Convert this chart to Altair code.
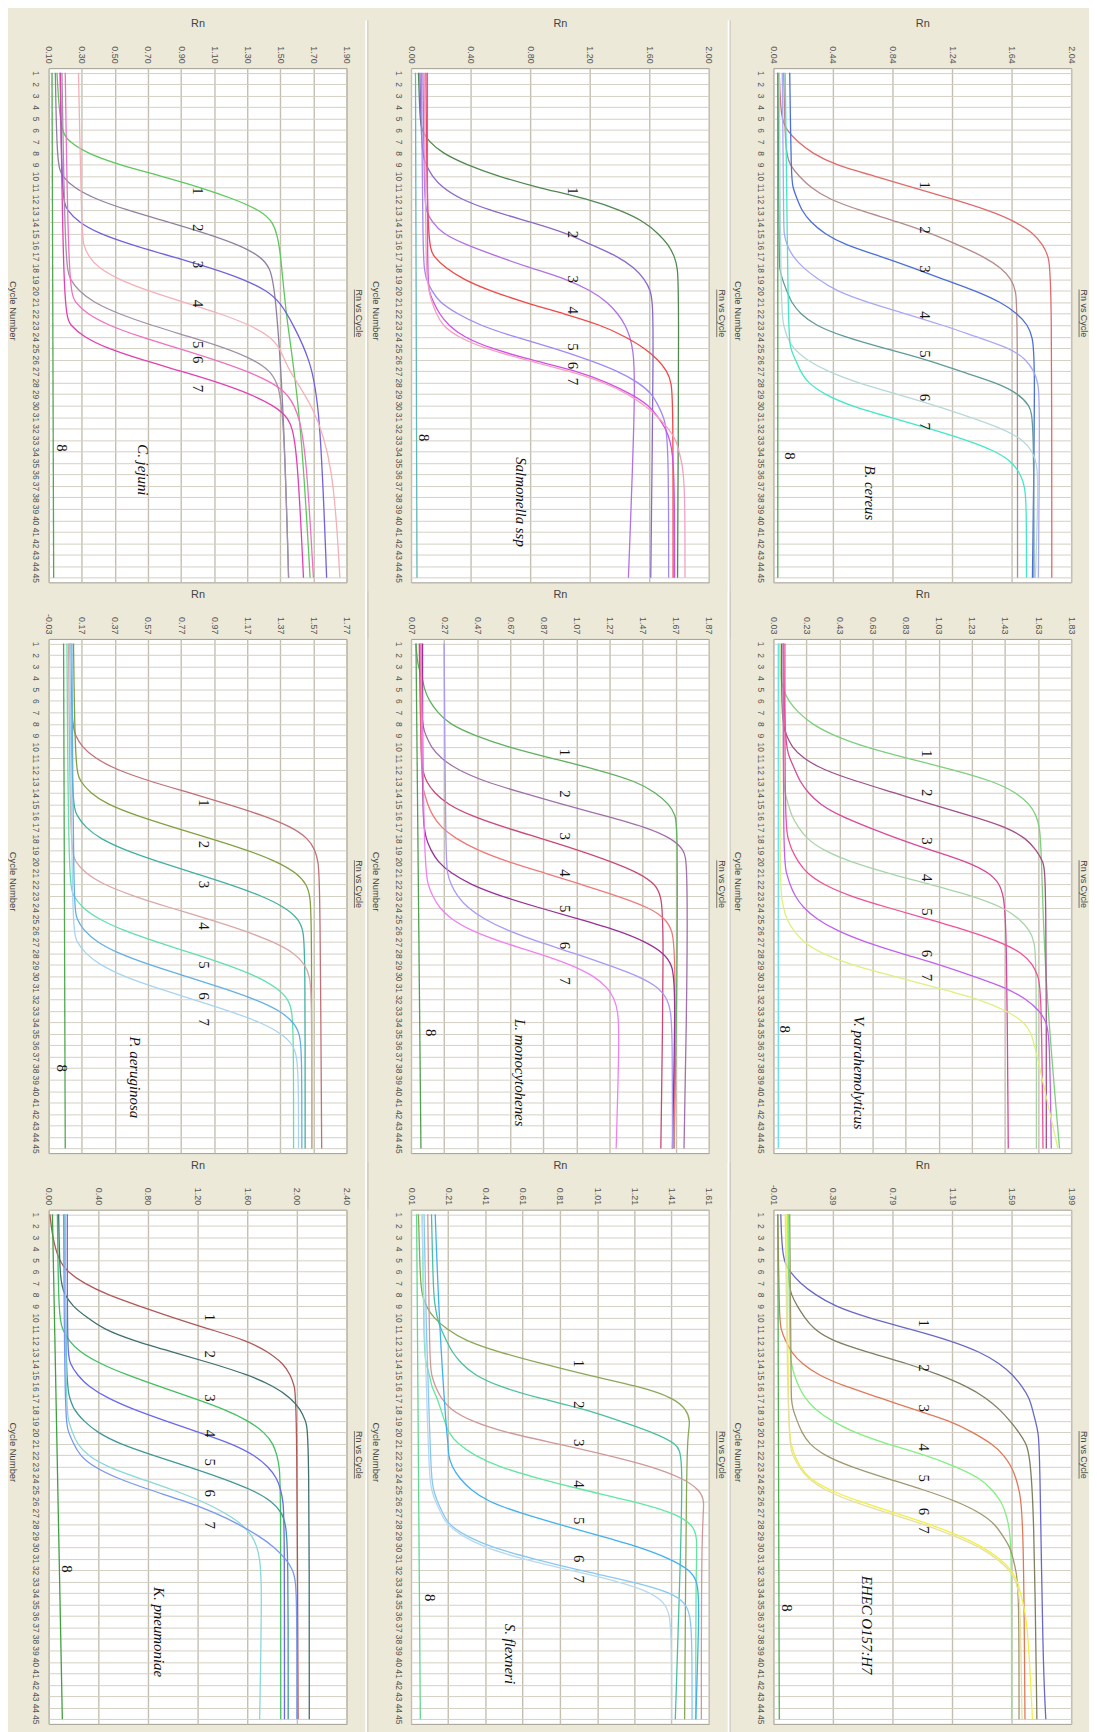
import altair as alt
import pandas as pd

W, H = 300, 518
CYC = list(range(1, 46))
YDOM = [0.6, 45.4]

# ---------------- C. jejuni ----------------
cj_ticks = [0.10, 0.30, 0.50, 0.70, 0.90, 1.10, 1.30, 1.50, 1.70, 1.90]
cj_colors = ["#5CC85C", "#9080A0", "#7060E0", "#F4B0B8", "#A090A8", "#F070C0", "#E040B0", "#50A850"]
cj_curves = [
    [(1,0.15),(6,0.17),(7,0.22),(8,0.33),(9,0.52),(10,0.78),(11,1.02),(12,1.22),(13,1.38),(14,1.46),(16,1.50),(22,1.53),(30,1.62),(45,1.68)],
    [(1,0.14),(9,0.15),(10,0.18),(11,0.25),(12,0.38),(13,0.58),(14,0.82),(15,1.05),(16,1.25),(17,1.38),(18,1.44),(20,1.47),(30,1.52),(45,1.55)],
    [(1,0.17),(12,0.18),(13,0.21),(14,0.28),(15,0.40),(16,0.60),(17,0.84),(18,1.08),(19,1.28),(20,1.42),(21,1.50),(23,1.58),(26,1.68),(30,1.74),(45,1.78)],
    [(1,0.28),(15,0.30),(16,0.31),(17,0.34),(18,0.40),(19,0.52),(20,0.70),(21,0.92),(22,1.14),(23,1.32),(24,1.44),(25,1.50),(27,1.55),(30,1.70),(35,1.82),(45,1.86)],
    [(1,0.18),(18,0.20),(19,0.23),(20,0.28),(21,0.37),(22,0.52),(23,0.72),(24,0.95),(25,1.17),(26,1.34),(27,1.44),(28,1.48),(30,1.52),(45,1.55)],
    [(1,0.20),(20,0.22),(21,0.26),(22,0.33),(23,0.46),(24,0.65),(25,0.88),(26,1.10),(27,1.30),(28,1.45),(29,1.55),(31,1.62),(35,1.66),(45,1.70)],
    [(1,0.17),(22,0.19),(23,0.23),(24,0.31),(25,0.45),(26,0.66),(27,0.90),(28,1.13),(29,1.32),(30,1.46),(31,1.55),(33,1.60),(45,1.64)],
    [(1,0.12),(45,0.13)],
]
cj_num_rn = 1.00
cj_num_cyc = [11.3, 14.5, 17.7, 21.1, 24.7, 26.0, 28.5]
cj_eight = (0.18, 33.7)
cj_name = ("C. jejuni", 0.67, 35.6)

# ---------------- Salmonella ssp ----------------
sa_ticks = [0.00, 0.40, 0.80, 1.20, 1.60, 2.00]
sa_colors = ["#508850", "#8A68C8", "#B070E8", "#F04848", "#A088F8", "#D050E8", "#F4A0C0", "#60B8B8"]
sa_curves = [
    [(1,0.05),(5,0.06),(6,0.07),(7,0.12),(8,0.21),(9,0.37),(10,0.58),(11,0.85),(12,1.19),(13,1.41),(14,1.57),(15,1.66),(16,1.73),(17,1.77),(18,1.79),(20,1.80),(45,1.79)],
    [(1,0.06),(8,0.07),(9,0.10),(10,0.14),(11,0.21),(12,0.33),(13,0.53),(14,0.80),(15,1.05),(16,1.21),(17,1.39),(18,1.50),(19,1.57),(20,1.61),(21,1.62),(23,1.63),(45,1.61)],
    [(1,0.08),(12,0.09),(13,0.10),(14,0.14),(15,0.21),(16,0.37),(17,0.58),(18,0.80),(19,1.05),(20,1.21),(21,1.32),(22,1.39),(23,1.44),(24,1.47),(25,1.49),(28,1.51),(45,1.46)],
    [(1,0.10),(16,0.11),(17,0.15),(18,0.23),(19,0.35),(20,0.53),(21,0.76),(22,1.03),(23,1.28),(24,1.44),(25,1.57),(26,1.66),(27,1.72),(28,1.75),(30,1.76),(45,1.76)],
    [(1,0.07),(17,0.08),(18,0.09),(19,0.10),(20,0.14),(21,0.19),(22,0.31),(23,0.46),(24,0.69),(25,0.96),(26,1.19),(27,1.39),(28,1.53),(29,1.62),(30,1.66),(31,1.70),(33,1.73),(45,1.73)],
    [(1,0.11),(19,0.11),(20,0.12),(21,0.15),(22,0.19),(23,0.25),(24,0.35),(25,0.53),(26,0.80),(27,1.12),(28,1.32),(29,1.48),(30,1.60),(31,1.66),(32,1.71),(33,1.74),(35,1.77),(45,1.77)],
    [(1,0.09),(18,0.10),(19,0.11),(20,0.12),(21,0.14),(22,0.17),(23,0.21),(24,0.31),(25,0.49),(26,0.76),(27,1.07),(28,1.30),(29,1.46),(30,1.57),(31,1.66),(32,1.73),(33,1.78),(34,1.80),(35,1.82),(37,1.84),(45,1.84)],
    [(1,0.03),(45,0.04)],
]
sa_num_rn = 1.09
sa_num_cyc = [11.3, 15.1, 19.0, 21.7, 24.9, 26.5, 27.9]
sa_eight = (0.09, 32.8)
sa_name = ("Salmonella ssp", 0.74, 38.4)

# ---------------- B. cereus ----------------
bc_ticks = [0.04, 0.44, 0.84, 1.24, 1.64, 2.04]
bc_colors = ["#E06A6A", "#B48A8A", "#4A6FD8", "#A8A8F8", "#5F9A98", "#B6D8D8", "#40E8C8", "#50A850"]
bc_curves = [
    [(1,0.08),(5,0.09),(6,0.13),(7,0.20),(8,0.30),(9,0.45),(10,0.72),(11,0.98),(12,1.24),(13,1.49),(14,1.67),(15,1.79),(16,1.85),(17,1.89),(19,1.91),(45,1.91)],
    [(1,0.11),(8,0.12),(9,0.15),(10,0.21),(11,0.29),(12,0.41),(13,0.62),(14,0.88),(15,1.10),(16,1.28),(17,1.45),(18,1.57),(19,1.64),(20,1.67),(22,1.68),(45,1.68)],
    [(1,0.15),(10,0.16),(11,0.17),(12,0.20),(13,0.23),(14,0.29),(15,0.38),(16,0.52),(17,0.76),(18,0.98),(19,1.18),(20,1.40),(21,1.57),(22,1.68),(23,1.75),(24,1.78),(26,1.80),(45,1.78)],
    [(1,0.10),(14,0.11),(15,0.11),(16,0.13),(17,0.17),(18,0.24),(19,0.34),(20,0.46),(21,0.67),(22,0.93),(23,1.18),(24,1.40),(25,1.63),(26,1.74),(27,1.79),(28,1.82),(30,1.83),(45,1.82)],
    [(1,0.07),(17,0.08),(18,0.08),(19,0.10),(20,0.13),(21,0.16),(22,0.22),(23,0.32),(24,0.51),(25,0.78),(26,1.07),(27,1.29),(28,1.54),(29,1.69),(30,1.76),(31,1.79),(45,1.79)],
    [(1,0.08),(22,0.09),(23,0.11),(24,0.13),(25,0.17),(26,0.26),(27,0.40),(28,0.60),(29,0.87),(30,1.13),(31,1.36),(32,1.58),(33,1.72),(34,1.78),(35,1.81),(37,1.82),(45,1.80)],
    [(1,0.12),(23,0.14),(25,0.15),(26,0.19),(27,0.22),(28,0.27),(29,0.38),(30,0.55),(31,0.82),(32,1.09),(33,1.34),(34,1.54),(35,1.65),(36,1.70),(37,1.73),(39,1.74),(45,1.74)],
    [(1,0.07),(45,0.07)],
]
bc_num_rn = 1.06
bc_num_cyc = [10.8, 14.7, 18.1, 22.1, 25.5, 29.3, 31.8]
bc_eight = (0.15, 34.4)
bc_name = ("B. cereus", 0.69, 37.6)

# ---------------- P. aeruginosa ----------------
pa_ticks = [-0.03, 0.17, 0.37, 0.57, 0.77, 0.97, 1.17, 1.37, 1.57, 1.77]
pa_colors = ["#C07078", "#80A040", "#40B0A0", "#D8A8A8", "#60E0B0", "#60B0E8", "#A8D4F0", "#50A850"]
pa_curves = [
    [(1,0.10),(8,0.11),(9,0.13),(10,0.17),(11,0.25),(12,0.38),(13,0.58),(14,0.82),(15,1.05),(16,1.27),(17,1.44),(18,1.54),(19,1.58),(20,1.60),(22,1.61),(45,1.62)],
    [(1,0.12),(12,0.13),(13,0.16),(14,0.22),(15,0.32),(16,0.50),(17,0.72),(18,0.95),(19,1.17),(20,1.35),(21,1.47),(22,1.53),(23,1.55),(25,1.56),(45,1.56)],
    [(1,0.10),(15,0.11),(16,0.14),(17,0.19),(18,0.28),(19,0.43),(20,0.63),(21,0.85),(22,1.07),(23,1.26),(24,1.40),(25,1.48),(26,1.51),(28,1.52),(45,1.52)],
    [(1,0.09),(19,0.10),(20,0.13),(21,0.19),(22,0.30),(23,0.48),(24,0.70),(25,0.93),(26,1.15),(27,1.33),(28,1.46),(29,1.52),(30,1.55),(32,1.56),(45,1.56)],
    [(1,0.08),(22,0.09),(23,0.12),(24,0.17),(25,0.27),(26,0.42),(27,0.62),(28,0.84),(29,1.05),(30,1.23),(31,1.35),(32,1.42),(33,1.44),(35,1.45),(45,1.45)],
    [(1,0.11),(24,0.12),(25,0.14),(26,0.18),(27,0.26),(28,0.39),(29,0.58),(30,0.80),(31,1.02),(32,1.22),(33,1.37),(34,1.45),(35,1.49),(37,1.50),(45,1.50)],
    [(1,0.10),(26,0.11),(27,0.14),(28,0.19),(29,0.28),(30,0.42),(31,0.62),(32,0.84),(33,1.06),(34,1.25),(35,1.38),(36,1.45),(37,1.47),(39,1.48),(45,1.48)],
    [(1,0.06),(45,0.07)],
]
pa_num_rn = 0.91
pa_num_cyc = [14.9, 18.5, 22.0, 25.6, 29.0, 31.7, 34.0]
pa_eight = (0.05, 38.0)
pa_name = ("P. aeruginosa", 0.49, 38.8)

# ---------------- L. monocytohenes ----------------
lm_ticks = [0.07, 0.27, 0.47, 0.67, 0.87, 1.07, 1.27, 1.47, 1.67, 1.87]
lm_colors = ["#60B060", "#A070A8", "#C84878", "#F07878", "#983098", "#A898F8", "#F080F0", "#50A050"]
lm_curves = [
    [(1,0.10),(3,0.11),(4,0.14),(5,0.15),(6,0.18),(7,0.23),(8,0.30),(9,0.45),(10,0.65),(11,0.92),(12,1.20),(13,1.43),(14,1.55),(15,1.63),(16,1.67),(17,1.68),(30,1.68),(45,1.66)],
    [(1,0.13),(8,0.13),(9,0.16),(10,0.19),(11,0.25),(12,0.35),(13,0.51),(14,0.74),(15,0.98),(16,1.24),(17,1.49),(18,1.65),(19,1.72),(20,1.74),(30,1.74),(45,1.72)],
    [(1,0.12),(11,0.13),(12,0.14),(13,0.16),(14,0.21),(15,0.29),(16,0.43),(17,0.63),(18,0.86),(19,1.08),(20,1.28),(21,1.45),(22,1.55),(23,1.58),(25,1.60),(45,1.58)],
    [(1,0.13),(13,0.13),(14,0.15),(15,0.17),(16,0.20),(17,0.25),(18,0.34),(19,0.47),(20,0.65),(21,0.88),(22,1.10),(23,1.32),(24,1.51),(25,1.61),(26,1.65),(28,1.67),(45,1.66)],
    [(1,0.14),(16,0.14),(17,0.15),(18,0.16),(19,0.19),(20,0.23),(21,0.31),(22,0.43),(23,0.61),(24,0.84),(25,1.08),(26,1.32),(27,1.49),(28,1.60),(29,1.65),(31,1.67),(45,1.65)],
    [(1,0.27),(20,0.28),(21,0.29),(22,0.31),(23,0.35),(24,0.41),(25,0.51),(26,0.65),(27,0.84),(28,1.06),(29,1.26),(30,1.45),(31,1.57),(32,1.62),(33,1.64),(35,1.65),(45,1.65)],
    [(1,0.13),(20,0.15),(22,0.17),(23,0.20),(24,0.24),(25,0.31),(26,0.43),(27,0.61),(28,0.84),(29,1.04),(30,1.18),(31,1.26),(32,1.30),(33,1.32),(35,1.33),(45,1.31)],
    [(1,0.10),(45,0.13)],
]
lm_num_rn = 1.00
lm_num_cyc = [10.5, 14.1, 17.8, 21.0, 24.1, 27.3, 30.4]
lm_eight = (0.19, 34.9)
lm_name = ("L. monocytohenes", 0.73, 38.4)

# ---------------- V. parahemolyticus ----------------
vp_ticks = [0.03, 0.23, 0.43, 0.63, 0.83, 1.03, 1.23, 1.43, 1.63, 1.83]
vp_colors = ["#7CCF7C", "#A0508A", "#D84898", "#A8D4A8", "#F0509A", "#C060F0", "#DDF080", "#60E0F0"]
vp_curves = [
    [(1,0.07),(4,0.07),(5,0.09),(6,0.12),(7,0.18),(8,0.26),(9,0.39),(10,0.58),(11,0.84),(12,1.12),(13,1.36),(14,1.50),(15,1.58),(16,1.62),(17,1.64),(19,1.65),(30,1.67),(45,1.76)],
    [(1,0.08),(8,0.08),(9,0.11),(10,0.14),(11,0.21),(12,0.33),(13,0.53),(14,0.76),(15,0.98),(16,1.22),(17,1.44),(18,1.56),(19,1.62),(20,1.66),(21,1.68),(45,1.68)],
    [(1,0.09),(10,0.10),(11,0.13),(12,0.16),(13,0.19),(14,0.24),(15,0.31),(16,0.43),(17,0.60),(18,0.78),(19,0.98),(20,1.20),(21,1.34),(22,1.40),(23,1.42),(25,1.44),(45,1.45)],
    [(1,0.09),(13,0.09),(14,0.10),(15,0.12),(16,0.14),(17,0.18),(18,0.23),(19,0.33),(20,0.49),(21,0.72),(22,0.98),(23,1.24),(24,1.42),(25,1.52),(26,1.58),(27,1.61),(29,1.62),(45,1.62)],
    [(1,0.10),(17,0.10),(18,0.12),(19,0.14),(20,0.18),(21,0.23),(22,0.33),(23,0.49),(24,0.72),(25,0.96),(26,1.20),(27,1.40),(28,1.54),(29,1.60),(30,1.63),(31,1.65),(45,1.66)],
    [(1,0.09),(20,0.09),(21,0.11),(22,0.13),(23,0.16),(24,0.21),(25,0.29),(26,0.41),(27,0.58),(28,0.80),(29,1.04),(30,1.24),(31,1.44),(32,1.56),(33,1.64),(34,1.68),(35,1.70),(45,1.71)],
    [(1,0.07),(22,0.07),(23,0.08),(24,0.09),(25,0.11),(26,0.15),(27,0.21),(28,0.32),(29,0.50),(30,0.76),(31,1.02),(32,1.28),(33,1.44),(34,1.55),(35,1.59),(36,1.61),(45,1.75)],
    [(1,0.06),(45,0.06)],
]
vp_num_rn = 0.96
vp_num_cyc = [10.6, 14.0, 18.2, 21.4, 24.4, 28.0, 30.1]
vp_eight = (0.10, 34.6)
vp_name = ("V. parahemolyticus", 0.55, 38.4)

# ---------------- K. pneumoniae ----------------
kp_ticks = [0.00, 0.40, 0.80, 1.20, 1.60, 2.00, 2.40]
kp_colors = ["#B05858", "#407070", "#40C060", "#6868F0", "#409898", "#88D8D8", "#7898F0", "#40A040"]
kp_curves = [
    [(1,0.01),(3,0.03),(5,0.08),(6,0.15),(7,0.28),(8,0.47),(9,0.73),(10,1.00),(11,1.29),(12,1.60),(13,1.77),(14,1.89),(15,1.95),(16,1.98),(17,2.00),(45,2.01)],
    [(1,0.08),(7,0.09),(8,0.13),(9,0.19),(10,0.31),(11,0.44),(12,0.68),(13,1.00),(14,1.32),(15,1.61),(16,1.82),(17,1.95),(18,2.03),(19,2.07),(20,2.10),(45,2.10)],
    [(1,0.07),(10,0.08),(11,0.11),(12,0.16),(13,0.25),(14,0.41),(15,0.63),(16,0.89),(17,1.16),(18,1.42),(19,1.61),(20,1.74),(21,1.81),(22,1.84),(23,1.86),(25,1.87),(45,1.87)],
    [(1,0.15),(13,0.15),(14,0.17),(15,0.23),(16,0.32),(17,0.47),(18,0.68),(19,0.94),(20,1.21),(21,1.48),(22,1.66),(23,1.77),(24,1.84),(25,1.87),(26,1.89),(28,1.90),(45,1.90)],
    [(1,0.13),(16,0.14),(17,0.17),(18,0.20),(19,0.28),(20,0.39),(21,0.57),(22,0.84),(23,1.13),(24,1.40),(25,1.64),(26,1.80),(27,1.88),(28,1.91),(30,1.93),(45,1.93)],
    [(1,0.13),(18,0.14),(19,0.16),(20,0.19),(21,0.23),(22,0.31),(23,0.47),(24,0.73),(25,1.00),(26,1.24),(27,1.42),(28,1.56),(29,1.64),(30,1.68),(31,1.70),(33,1.72),(45,1.70)],
    [(1,0.12),(19,0.13),(20,0.16),(21,0.20),(22,0.25),(23,0.36),(24,0.55),(25,0.81),(26,1.10),(27,1.34),(28,1.53),(29,1.69),(30,1.82),(31,1.91),(32,1.97),(33,1.99),(35,2.00),(45,2.00)],
    [(1,0.03),(45,0.11)],
]
kp_num_rn = 1.30
kp_num_cyc = [10.0, 13.2, 17.0, 20.1, 22.6, 25.3, 28.1]
kp_eight = (0.15, 31.9)
kp_name = ("K. pneumoniae", 0.89, 37.4)

# ---------------- S. flexneri ----------------
sf_ticks = [0.01, 0.21, 0.41, 0.61, 0.81, 1.01, 1.21, 1.41, 1.61]
sf_colors = ["#88A858", "#48C0A0", "#D09898", "#60E8A0", "#40B0F0", "#88C8F0", "#B8D8F0", "#60D890"]
sf_curves = [
    [(1,0.05),(7,0.06),(8,0.07),(9,0.09),(10,0.13),(11,0.20),(12,0.30),(13,0.48),(14,0.71),(15,0.95),(16,1.24),(17,1.42),(18,1.49),(19,1.51),(20,1.50),(22,1.49),(45,1.48)],
    [(1,0.12),(8,0.13),(9,0.14),(10,0.15),(11,0.17),(12,0.20),(13,0.23),(14,0.28),(15,0.35),(16,0.48),(17,0.69),(18,0.95),(19,1.13),(20,1.31),(21,1.44),(22,1.47),(30,1.46),(45,1.43)],
    [(1,0.10),(14,0.11),(15,0.12),(16,0.14),(17,0.17),(18,0.22),(19,0.33),(20,0.51),(21,0.80),(22,1.07),(23,1.31),(24,1.47),(25,1.56),(26,1.59),(28,1.57),(45,1.57)],
    [(1,0.07),(13,0.08),(14,0.09),(15,0.11),(16,0.12),(17,0.15),(18,0.17),(19,0.19),(20,0.21),(21,0.26),(22,0.35),(23,0.48),(24,0.69),(25,0.93),(26,1.20),(27,1.42),(28,1.52),(29,1.55),(32,1.54),(45,1.54)],
    [(1,0.14),(10,0.16),(20,0.20),(21,0.21),(22,0.21),(23,0.23),(24,0.27),(25,0.33),(26,0.42),(27,0.59),(28,0.80),(29,1.02),(30,1.24),(31,1.40),(32,1.51),(33,1.55),(35,1.56),(45,1.54)],
    [(1,0.08),(10,0.09),(20,0.11),(24,0.12),(25,0.13),(26,0.15),(27,0.18),(28,0.21),(29,0.30),(30,0.44),(31,0.66),(32,0.91),(33,1.20),(34,1.42),(35,1.49),(36,1.51),(38,1.52),(45,1.52)],
    [(1,0.07),(10,0.08),(20,0.10),(24,0.11),(25,0.12),(26,0.14),(27,0.17),(28,0.20),(29,0.28),(30,0.40),(31,0.60),(32,0.86),(33,1.13),(34,1.31),(35,1.38),(36,1.40),(38,1.41),(45,1.41)],
    [(1,0.04),(45,0.06)],
]
sf_num_rn = 0.91
sf_num_cyc = [14.0, 17.6, 20.9, 24.5, 27.7, 31.0, 32.8]
sf_eight = (0.11, 34.4)
sf_name = ("S. flexneri", 0.54, 39.3)

# ---------------- EHEC O157:H7 ----------------
eh_ticks = [-0.01, 0.39, 0.79, 1.19, 1.59, 1.99]
eh_colors = ["#6868C8", "#7E7E62", "#E07858", "#80F080", "#A09870", "#F0F040", "#E6E0A0", "#50B050"]
eh_curves = [
    [(1,0.04),(5,0.05),(6,0.10),(7,0.17),(8,0.27),(9,0.40),(10,0.62),(11,0.91),(12,1.18),(13,1.38),(14,1.51),(15,1.60),(16,1.66),(17,1.71),(18,1.73),(19,1.75),(20,1.77),(22,1.78),(40,1.80),(45,1.82)],
    [(1,0.09),(7,0.09),(8,0.11),(9,0.15),(10,0.20),(11,0.26),(12,0.38),(13,0.62),(14,0.89),(15,1.11),(16,1.29),(17,1.42),(18,1.51),(19,1.58),(20,1.64),(21,1.69),(22,1.71),(26,1.74),(45,1.76)],
    [(1,0.02),(10,0.03),(11,0.04),(12,0.07),(13,0.11),(14,0.18),(15,0.29),(16,0.47),(17,0.71),(18,0.93),(19,1.18),(20,1.33),(21,1.46),(22,1.54),(23,1.59),(24,1.62),(25,1.64),(27,1.67),(45,1.68)],
    [(1,0.09),(13,0.10),(14,0.11),(15,0.13),(16,0.16),(17,0.20),(18,0.27),(19,0.38),(20,0.53),(21,0.75),(22,1.02),(23,1.22),(24,1.38),(25,1.46),(26,1.52),(27,1.55),(28,1.57),(29,1.58),(31,1.59),(45,1.59)],
    [(1,0.10),(16,0.11),(17,0.11),(18,0.12),(19,0.15),(20,0.18),(21,0.23),(22,0.33),(23,0.51),(24,0.75),(25,1.00),(26,1.22),(27,1.38),(28,1.48),(29,1.53),(30,1.58),(31,1.60),(32,1.62),(34,1.64),(45,1.64)],
    [(1,0.08),(20,0.09),(21,0.11),(22,0.13),(23,0.17),(24,0.23),(25,0.36),(26,0.56),(27,0.80),(28,1.04),(29,1.24),(30,1.40),(31,1.51),(32,1.59),(33,1.63),(34,1.65),(35,1.67),(37,1.70),(45,1.73)],
    [(1,0.07),(21,0.09),(22,0.12),(23,0.16),(24,0.22),(25,0.33),(26,0.51),(27,0.75),(28,1.00),(29,1.20),(30,1.38),(31,1.49),(32,1.58),(33,1.62),(34,1.64),(36,1.65),(45,1.66)],
    [(1,0.02),(45,0.03)],
]
eh_num_rn = 1.00
eh_num_cyc = [10.5, 14.4, 17.9, 21.3, 24.0, 26.9, 28.5]
eh_eight = (0.08, 35.3)
eh_name = ("EHEC O157:H7", 0.62, 36.8)


def panel(ticks, colors, curves, num_rn, num_cyc, eight, name, sep):
    rows = []
    for k, pts in enumerate(curves):
        for j, (c, r) in enumerate(pts):
            rows.append({"curve": str(k + 1), "cycle": c, "rn": r, "ord": j})
    df = pd.DataFrame(rows)
    xsc = alt.Scale(domain=[ticks[0], ticks[-1]], nice=False, zero=False)
    ysc = alt.Scale(domain=YDOM, reverse=True, nice=False, zero=False)
    xax = alt.Axis(
        orient="top", values=ticks, tickCount=len(ticks) + 2,
        labelExpr="replace(format(datum.value, '.2f'), '\u2212', '-')",
        labelAngle=90, labelAlign="right", labelBaseline="middle", labelPadding=5,
        labelFont="Liberation Sans", labelFontSize=9, labelColor="#555555", labelFlush=False,
        labelOverlap=False, ticks=False, domain=False,
        grid=True, gridColor="#C4BFB0", gridWidth=1.4,
        title="Rn", titleFont="Liberation Sans", titleFontSize=11, titleFontWeight="normal",
        titleColor="#444444", titleY=-45, titleBaseline="middle",
    )
    yax = alt.Axis(
        values=CYC, tickCount=60, labelAngle=90, labelAlign="center", labelBaseline="top", labelPadding=9,
        labelFont="Liberation Sans", labelFontSize=8.5, labelColor="#555555", labelOverlap=False,
        labelFlush=False, ticks=False, domain=False,
        grid=True, gridColor="#D4D0C4", gridWidth=1,
        title="Cycle Number", titleAngle=90, titleX=-36, titleY=H / 2 - 15,
        titleAlign="center", titleBaseline="middle", titleFont="Liberation Sans",
        titleFontSize=9.5, titleFontWeight="normal", titleColor="#444444",
    )
    lines = alt.Chart(df).mark_line(interpolate="basis", strokeWidth=1.3).encode(
        x=alt.X("rn:Q", scale=xsc, axis=xax),
        y=alt.Y("cycle:Q", scale=ysc, axis=yax),
        color=alt.Color("curve:N", scale=alt.Scale(domain=[str(i) for i in range(1, 9)], range=colors), legend=None),
        order="ord:Q",
    )
    ndf = pd.DataFrame({
        "rn": [num_rn] * len(num_cyc) + [eight[0]],
        "cycle": num_cyc + [eight[1]],
        "t": [str(i) for i in range(1, len(num_cyc) + 1)] + ["8"],
    })
    nums = alt.Chart(ndf).mark_text(angle=90, font="Liberation Serif", fontSize=15, color="#111111").encode(
        x=alt.X("rn:Q", scale=xsc, axis=xax),
        y=alt.Y("cycle:Q", scale=ysc, axis=yax),
        text="t:N",
    )
    sdf = pd.DataFrame({"t": [name[0]], "rn": [name[1]], "cycle": [name[2]]})
    sp = alt.Chart(sdf).mark_text(angle=90, font="Liberation Serif", fontStyle="italic", fontSize=15, color="#111111").encode(
        x=alt.X("rn:Q", scale=xsc, axis=xax),
        y=alt.Y("cycle:Q", scale=ysc, axis=yax),
        text="t:N",
    )
    rdf = pd.DataFrame({"t": ["Rn vs Cycle"]})
    rvc = alt.Chart(rdf).mark_text(angle=90, font="Liberation Sans", fontSize=9, color="#444444").encode(
        x=alt.value(W + 13), y=alt.value(H / 2 - 12), text="t:N"
    )
    ul = alt.Chart(rdf).mark_rule(color="#555555", strokeWidth=0.8).encode(
        x=alt.value(W + 8), y=alt.value(H / 2 - 12 - 24), y2=alt.value(H / 2 - 12 + 24)
    )
    layers = [lines, nums, sp, rvc, ul]
    if sep:
        s1 = alt.Chart(rdf).mark_rule(color="#FFFFFF", strokeWidth=2).encode(
            x=alt.value(W + 20), y=alt.value(-48), y2=alt.value(H + 57)
        )
        s2 = alt.Chart(rdf).mark_rule(color="#C8C4B6", strokeWidth=1).encode(
            x=alt.value(W + 21.5), y=alt.value(-48), y2=alt.value(H + 57)
        )
        layers += [s1, s2]
    return alt.layer(*layers).properties(width=W, height=H)


panels = [
    panel(cj_ticks, cj_colors, cj_curves, cj_num_rn, cj_num_cyc, cj_eight, cj_name, True),
    panel(sa_ticks, sa_colors, sa_curves, sa_num_rn, sa_num_cyc, sa_eight, sa_name, True),
    panel(bc_ticks, bc_colors, bc_curves, bc_num_rn, bc_num_cyc, bc_eight, bc_name, False),
    panel(pa_ticks, pa_colors, pa_curves, pa_num_rn, pa_num_cyc, pa_eight, pa_name, True),
    panel(lm_ticks, lm_colors, lm_curves, lm_num_rn, lm_num_cyc, lm_eight, lm_name, True),
    panel(vp_ticks, vp_colors, vp_curves, vp_num_rn, vp_num_cyc, vp_eight, vp_name, False),
    panel(kp_ticks, kp_colors, kp_curves, kp_num_rn, kp_num_cyc, kp_eight, kp_name, True),
    panel(sf_ticks, sf_colors, sf_curves, sf_num_rn, sf_num_cyc, sf_eight, sf_name, True),
    panel(eh_ticks, eh_colors, eh_curves, eh_num_rn, eh_num_cyc, eh_eight, eh_name, False),
]

chart = alt.concat(
    *panels, columns=3, spacing={"row": 57, "column": 65}, bounds="flush"
).resolve_scale(color="independent").properties(
    padding={"left": 0, "top": 2, "right": 0, "bottom": 0},
    background="#ECE9D8",
).configure_view(fill="white", stroke="#A09C90", strokeWidth=1)

chart.save("out.html", embed_options={"renderer": "svg", "actions": False})
